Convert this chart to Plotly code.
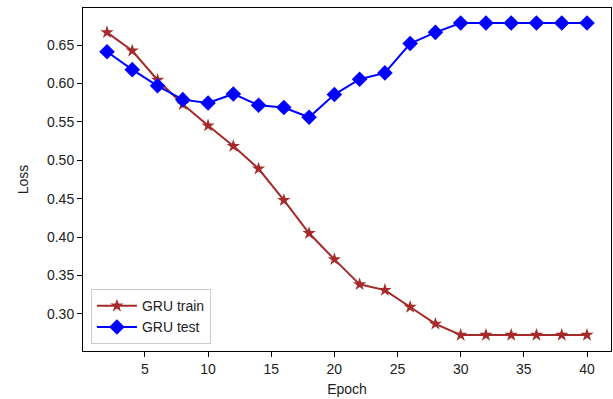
import plotly.graph_objects as go

epochs = [2, 4, 6, 8, 10, 12, 14, 16, 18, 20, 22, 24, 26, 28, 30, 32, 34, 36, 38, 40]
train_loss = [0.6666, 0.6426, 0.6046, 0.573, 0.5452, 0.5185, 0.489, 0.448, 0.405, 0.371,
              0.3385, 0.331, 0.309, 0.287, 0.2725, 0.2725, 0.2725, 0.2725, 0.2725, 0.2725]
test_loss = [0.6413, 0.618, 0.597, 0.579, 0.5747, 0.5864, 0.5717, 0.5687, 0.556, 0.5856,
             0.6056, 0.6138, 0.652, 0.6666, 0.6787, 0.6787, 0.6787, 0.6787, 0.6787, 0.6787]
y_ticks = [0.30, 0.35, 0.40, 0.45, 0.50, 0.55, 0.60, 0.65]
x_ticks = [5, 10, 15, 20, 25, 30, 35, 40]

font = "Liberation Sans, Arial, sans-serif"

fig = go.Figure()
fig.add_trace(go.Scatter(
    x=epochs, y=train_loss, name="GRU train", mode="lines+markers",
    line=dict(color="#A52A2A", width=2),
    marker=dict(symbol="star", size=10, color="#A52A2A"),
))
fig.add_trace(go.Scatter(
    x=epochs, y=test_loss, name="GRU test", mode="lines+markers",
    line=dict(color="#0000FF", width=2),
    marker=dict(symbol="diamond", size=12, color="#0000FF"),
))

fig.update_layout(
    width=613, height=399,
    margin=dict(l=83, r=2, t=8, b=48),
    paper_bgcolor="white", plot_bgcolor="white",
    font=dict(family=font, size=14, color="#222"),
    showlegend=True,
    legend=dict(
        x=0.015, y=0.02, xanchor="left", yanchor="bottom",
        bordercolor="#cccccc", borderwidth=1, bgcolor="rgba(255,255,255,0.8)",
        font=dict(family=font, size=14, color="#222"),
        tracegroupgap=0, itemwidth=40,
    ),
    xaxis=dict(
        range=[0.1, 41.9], tickvals=x_ticks, ticks="outside", ticklen=5,
        showgrid=False, zeroline=False, showline=True, mirror=True,
        linecolor="black", linewidth=1, tickcolor="black",
        title=dict(text="Epoch", font=dict(size=14), standoff=8),
    ),
    yaxis=dict(
        range=[0.2517, 0.6983], tickvals=y_ticks, tickformat=".2f",
        ticks="outside", ticklen=5,
        showgrid=False, zeroline=False, showline=True, mirror=True,
        linecolor="black", linewidth=1, tickcolor="black",
        title=dict(text="Loss", font=dict(size=14), standoff=15),
    ),
)

fig.write_html("out.html")
